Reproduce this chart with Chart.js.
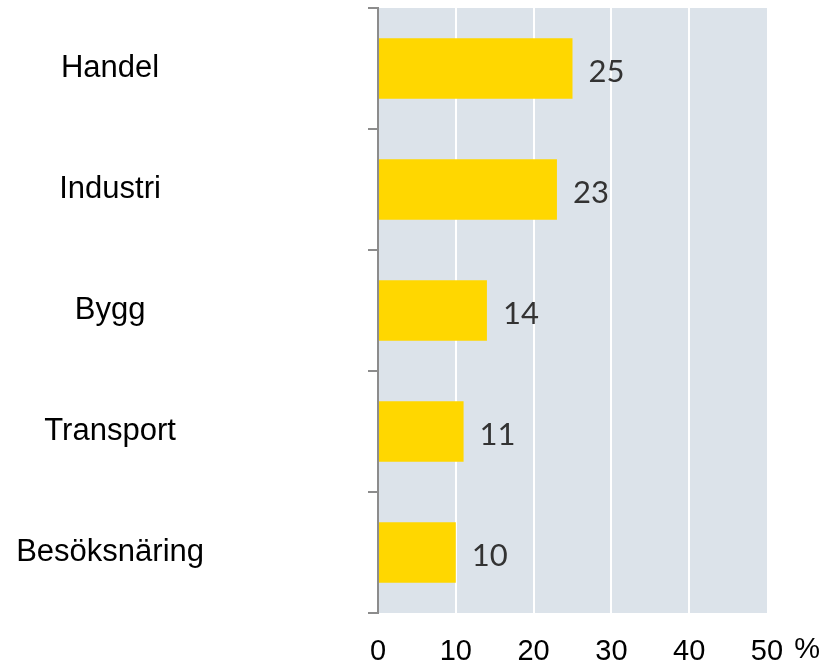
<!DOCTYPE html>
<html lang="sv">
<head>
<meta charset="utf-8">
<title>Branscher</title>
<script src="https://cdn.jsdelivr.net/npm/chart.js@4/dist/chart.umd.min.js"></script>
<style>
	html, body { margin: 0; padding: 0; background: #ffffff; }
	.chart-wrap { position: relative; width: 825px; height: 665px; }
</style>
</head>
<body>
<div class="chart-wrap"><canvas class="sector-chart"></canvas></div>
<script>
// andel per bransch, i procent
const sectors = ['Handel', 'Industri', 'Bygg', 'Transport', 'Besöksnäring'];
const shares = [25, 23, 14, 11, 10];
const xTicks = [0, 10, 20, 30, 40, 50];

const plotBackground = {
	id: 'plotBackground',
	beforeDraw: function (chart) {
		const { ctx, chartArea } = chart;
		ctx.save();
		ctx.fillStyle = '#dce3ea';
		ctx.fillRect(chartArea.left, chartArea.top, chartArea.right - chartArea.left, chartArea.bottom - chartArea.top);
		ctx.restore();
	},
};

// siffran till höger om varje stapel + procenttecknet efter 50
const barValues = {
	id: 'barValues',
	afterDatasetsDraw: function (chart) {
		const { ctx } = chart;
		const meta = chart.getDatasetMeta(0);
		ctx.save();
		ctx.font = '31px Lato';
		ctx.fillStyle = '#333333';
		ctx.textAlign = 'left';
		ctx.textBaseline = 'middle';
		meta.data.forEach(function (bar, i) {
			ctx.fillText(String(shares[i]), bar.x + 16, bar.y + 3);
		});
		ctx.restore();
	},
	afterDraw: function (chart) {
		const { ctx } = chart;
		const xScale = chart.scales.x;
		ctx.save();
		ctx.font = '29px "Liberation Sans", Arial, sans-serif';
		ctx.fillStyle = '#000000';
		ctx.textAlign = 'left';
		ctx.textBaseline = 'middle';
		const last = xTicks[xTicks.length - 1];
		const w = ctx.measureText(String(last)).width;
		ctx.fillText(' %', xScale.getPixelForValue(last) + w / 2 + 3, 650);
		ctx.restore();
	},
};

const createChart = function () {
	const data = {
		labels: sectors,
		datasets: [
			{
				data: shares,
				backgroundColor: '#ffd700',
				borderWidth: 0,
				categoryPercentage: 1,
				barPercentage: 0.5,
			},
		],
	};

	const config = {
		type: 'bar',
		data: data,
		plugins: [plotBackground, barValues],
		options: {
			indexAxis: 'y',
			responsive: false,
			animation: false,
			layout: { padding: { top: 8, right: 58, left: 0, bottom: 0 } },
			plugins: {
				legend: { display: false },
				tooltip: { enabled: false },
			},
			scales: {
				x: {
					min: 0,
					max: 50,
					afterBuildTicks: function (scale) {
						scale.ticks = xTicks.map(function (v) {
							return { value: v };
						});
					},
					afterFit: function (scale) {
						scale.height = 52;
						scale.paddingLeft = 0;
						scale.paddingRight = 0;
					},
					border: { display: false },
					grid: {
						color: function (c) {
							return c.tick.value > 0 && c.tick.value < 50 ? '#ffffff' : 'rgba(0,0,0,0)';
						},
						lineWidth: 2,
						drawTicks: false,
					},
					ticks: {
						color: '#000000',
						padding: 22,
						maxRotation: 0,
						font: { family: '"Liberation Sans", Arial, sans-serif', size: 29 },
					},
				},
				y: {
					afterFit: function (scale) {
						// etiketterna centreras med stor padding; den ska inte krympa ritytan
						scale.width = 378;
						scale.paddingTop = 0;
						scale.paddingBottom = 0;
					},
					border: { display: true, color: '#8c8c8c', width: 2 },
					grid: {
						offset: true,
						drawOnChartArea: false,
						drawTicks: true,
						tickLength: 10,
						color: '#8c8c8c',
						lineWidth: 2,
					},
					ticks: {
						crossAlign: 'center',
						padding: 164,
						color: '#000000',
						font: { family: '"Liberation Sans", Arial, sans-serif', size: 31 },
					},
				},
			},
		},
	};

	const ctx = document.querySelector('.sector-chart');
	ctx.width = 825;
	ctx.height = 665;
	const myChart = new Chart(ctx, config);
};

const init = function () {
	createChart();
};
document.addEventListener('DOMContentLoaded', init);
</script>
</body>
</html>
